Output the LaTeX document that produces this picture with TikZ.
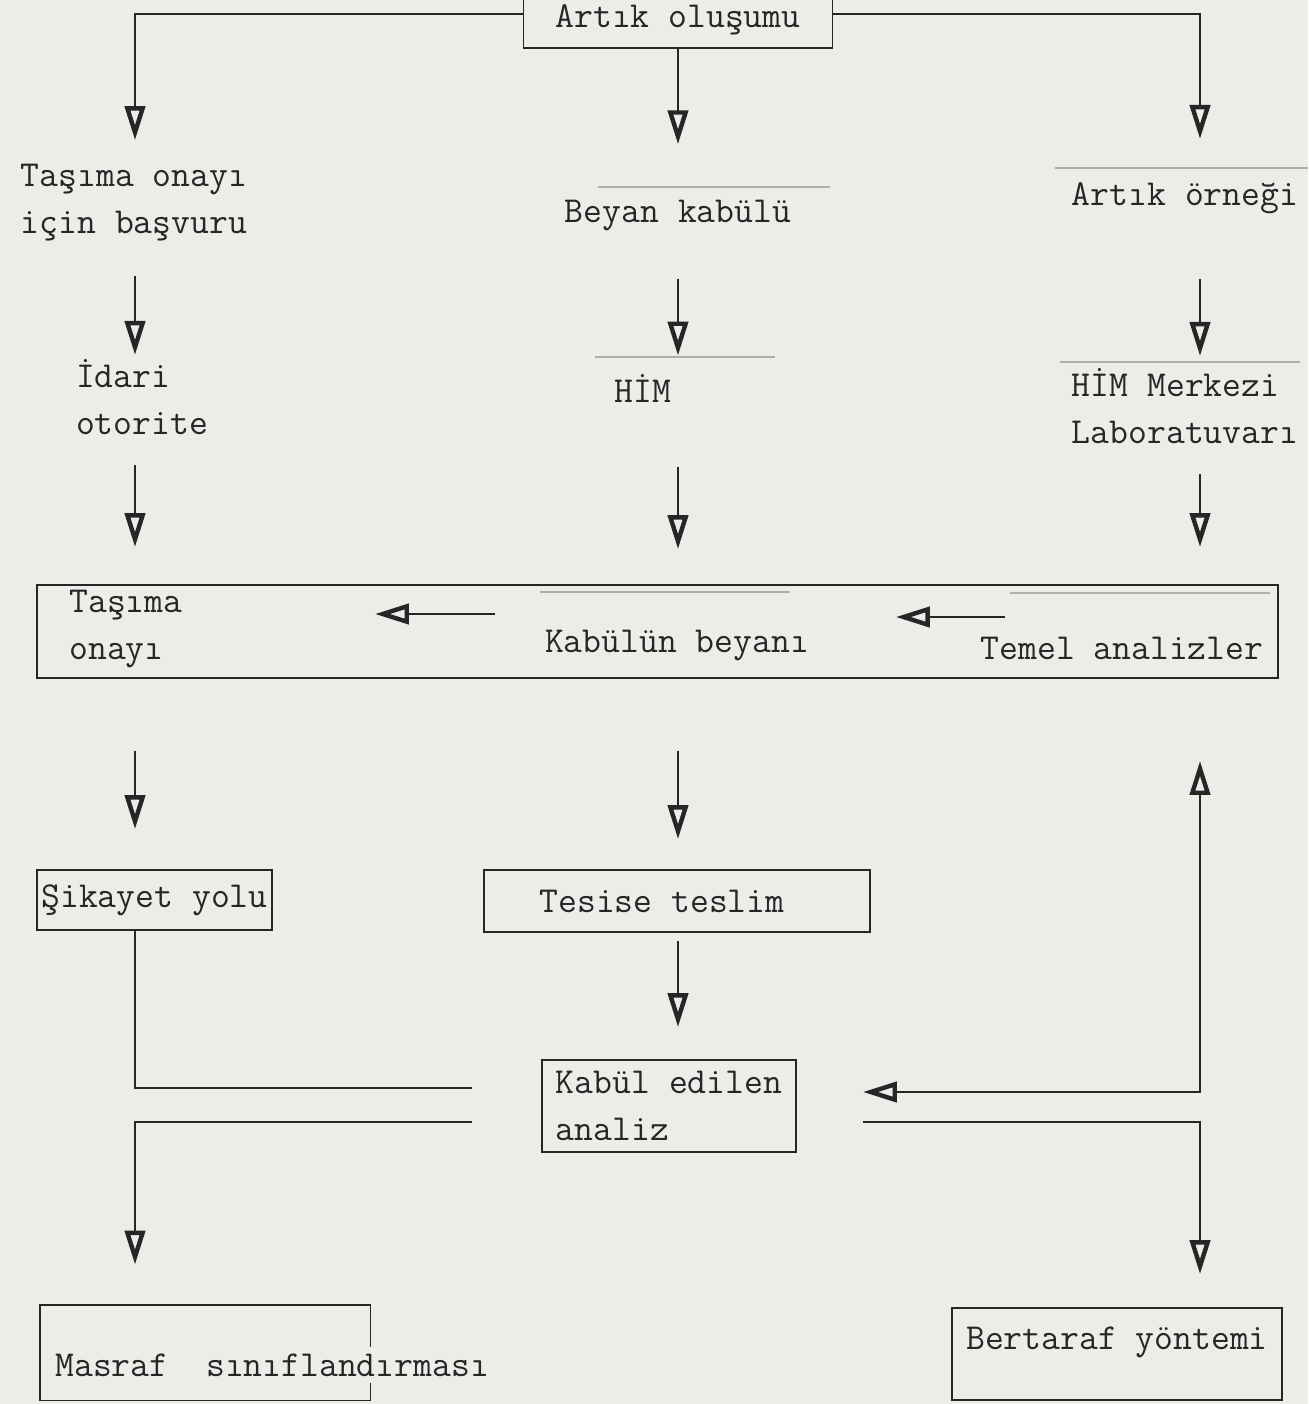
\documentclass[tikz,border=0pt]{standalone}
\usepackage{fontspec}
\usetikzlibrary{arrows.meta, positioning}
\definecolor{paper}{RGB}{236,236,233}
\definecolor{ink}{RGB}{38,38,38}
\definecolor{faint}{RGB}{175,175,172}

\begin{document}
\begin{tikzpicture}[x=0.5pt, y=-0.5pt,
  lbl/.style={inner sep=0pt, text=ink, font=\ttfamily\fontsize{18.3}{23.5}\selectfont, align=left},
  box/.style={draw=ink, line width=0.9pt, inner sep=0pt, text=ink, font=\ttfamily\fontsize{18.3}{23.5}\selectfont, align=left},
  arr/.style={draw=ink, line width=0.9pt, -{Triangle[open, width=10pt, length=17pt, line width=2.2pt]}},
  both/.style={arr, {Triangle[open, width=10pt, length=17pt, line width=2.2pt]}-{Triangle[open, width=10pt, length=17pt, line width=2.2pt]}},
  plain/.style={draw=ink, line width=0.9pt},
  gap/.style 2 args={shorten <=#1, shorten >=#2}]

\fill[paper] (0,0) rectangle (1308,1404);
\useasboundingbox (0,0) rectangle (1308,1404);

% columns
\coordinate (colL) at (135,0);
\coordinate (colM) at (678,0);
\coordinate (colR) at (1200,0);

% top box
\node[box, minimum width=154.5pt, minimum height=28pt] (art) at (678,20) {Artık oluşumu};

% first row
\node[lbl] (tasima) at (134,203) {Taşıma onayı\\için başvuru};
\node[lbl] (beyan) at (678,215) {Beyan kabülü};
\node[lbl] (ornek) at (1185,198) {Artık örneği};

% second row
\node[lbl] (idari) at (142,397) {İdari\\otorite};
\node[lbl] (him) at (643,388) {HİM};
\node[lbl] (lab) at (1185,406) {HİM Merkezi\\Laboratuvarı};

% wide box
\node[box, minimum width=620.5pt, minimum height=46.5pt] (kutu) at (657.5,631.5) {};
\node[lbl] (tas2) at (126,628.5) {Taşıma\\onayı};
\node[lbl] (kb) at (677,645) {Kabülün beyanı};
\node[lbl] (temel) at (1122,648) {Temel analizler};

% lower boxes
\node[box, minimum width=117.5pt, minimum height=30pt] (sik) at (154.5,900) {Şikayet yolu};
\node[box, minimum width=193pt, minimum height=31pt] (tes) at (677,901) {Tesise teslim\hspace{15pt}};
\node[box, minimum width=127pt, minimum height=46pt, inner xsep=6.5pt] (kab) at (669,1106) {Kabül edilen\\analiz};

% bottom boxes
\node[minimum width=165pt, minimum height=47.5pt, inner sep=0pt] (masb) at (205,1352.5) {};
\node[lbl, anchor=west, inner ysep=3pt] (masraf) at (55,1365) {Masraf\ \ sınıflandırması};
\draw[plain] (masb.east |- masraf.north) |- (masb.north west) |- (masb.south east) -- (masb.east |- masraf.south);
\node[box, minimum width=165pt, minimum height=46pt, text depth=16pt] (bert) at (1117,1354) {Bertaraf yöntemi};

% typewriter smudges
\foreach \xa/\xb/\yy in {598/830/187, 1055/1308/168, 595/775/357, 1060/1300/362, 1010/1270/593, 540/790/592}
  \draw[faint, line width=0.6pt] (\xa,\yy) -- (\xb,\yy);

% left column
\draw[arr, gap={0pt}{12pt}] ([yshift=3pt]art.west) -| (tasima.north -| colL);
\draw[arr, gap={17pt}{2pt}] (tasima.south -| colL) -- (idari.north -| colL);
\draw[arr, gap={15pt}{18.5pt}] (idari.south -| colL) -- (kutu.north -| colL);
\draw[arr, gap={36pt}{20pt}] (kutu.south -| colL) -- (sik.north -| colL);
\draw[plain, gap={0pt}{34.5pt}] (sik.south -| colL) |- ([yshift=9pt]kab.west);
\draw[arr, gap={34.5pt}{20pt}] ([yshift=-8pt]kab.west) -| (masb.north -| colL);

% middle column
\draw[arr, gap={0pt}{27.5pt}] (art.south) -- (beyan.north -| colM);
\draw[arr, gap={24pt}{9pt}] (beyan.south -| colM) -- (him.north -| colM);
\draw[arr, gap={32.5pt}{17.5pt}] (him.south -| colM) -- (kutu.north -| colM);
\draw[arr, gap={36pt}{15pt}] (kutu.south -| colM) -- (tes.north -| colM);
\draw[arr, gap={4pt}{16pt}] (tes.south -| colM) -- (kab.north -| colM);

% right column
\draw[arr, gap={0pt}{21.5pt}] ([yshift=3pt]art.east) -| (ornek.north -| colR);
\draw[arr, gap={32.5pt}{6pt}] (ornek.south -| colR) -- (lab.north -| colR);
\draw[arr, gap={15pt}{18.5pt}] (lab.south -| colR) -- (kutu.north -| colR);
\draw[arr, gap={33pt}{16.5pt}] ([yshift=-8pt]kab.east) -| (bert.north -| colR);
\draw[both, gap={33pt}{41pt}] ([yshift=7pt]kab.east) -| (kutu.south -| colR);

% arrows inside the wide box
\path ([yshift=15.5pt]kb.west) coordinate (kbw);
\draw[arr, gap={24.75pt}{96pt}] (kbw) -- (tas2.east |- kbw);
\path ([yshift=15.5pt]temel.west) coordinate (tw);
\draw[arr, gap={-12.5pt}{43.25pt}] (tw) -- (kb.east |- tw);
\end{tikzpicture}
\end{document}
